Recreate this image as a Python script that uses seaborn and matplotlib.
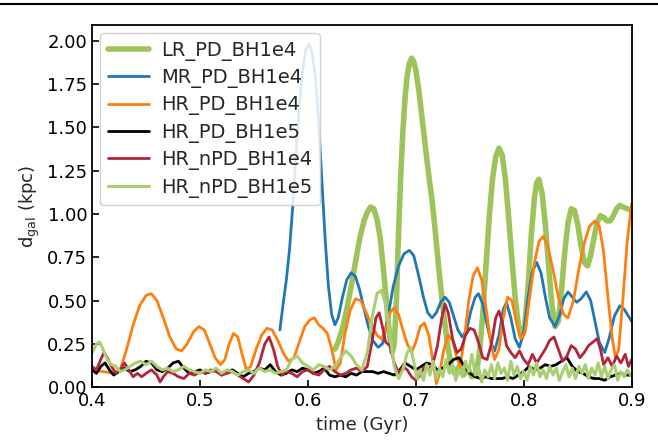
import numpy as np
import pandas as pd
import matplotlib
matplotlib.use("Agg")
import matplotlib.pyplot as plt
from matplotlib.lines import Line2D
import seaborn as sns

# ---- data: galaxy-centre offset of the black hole, d_gal (kpc) vs time (Gyr) ----
lr_pd_bh1e4_t = [0.625, 0.628, 0.632, 0.636, 0.640, 0.644, 0.648, 0.652, 0.655, 0.658,
                 0.661, 0.664, 0.667, 0.670, 0.673, 0.676, 0.678, 0.680, 0.682, 0.684,
                 0.686, 0.688, 0.690, 0.692, 0.694, 0.696, 0.698, 0.700, 0.703, 0.706,
                 0.709, 0.712, 0.715, 0.718, 0.721, 0.724, 0.727, 0.730, 0.733, 0.736,
                 0.740, 0.744, 0.748, 0.752, 0.756, 0.759, 0.762, 0.765, 0.768, 0.771,
                 0.774, 0.777, 0.780, 0.783, 0.786, 0.789, 0.792, 0.795, 0.798, 0.801,
                 0.804, 0.807, 0.810, 0.812, 0.814, 0.817, 0.820, 0.823, 0.826, 0.829,
                 0.832, 0.835, 0.838, 0.841, 0.844, 0.847, 0.850, 0.853, 0.856, 0.859,
                 0.862, 0.865, 0.868, 0.871, 0.874, 0.877, 0.880, 0.883, 0.886, 0.889,
                 0.892, 0.896, 0.900]
lr_pd_bh1e4_d = [0.22, 0.26, 0.34, 0.45, 0.58, 0.72, 0.86, 0.96, 1.01, 1.04,
                 1.03, 0.97, 0.86, 0.68, 0.47, 0.28, 0.20, 0.25, 0.50, 0.90,
                 1.22, 1.48, 1.67, 1.80, 1.87, 1.90, 1.88, 1.83, 1.70, 1.54,
                 1.38, 1.22, 1.08, 0.90, 0.70, 0.52, 0.36, 0.22, 0.12, 0.08,
                 0.12, 0.07, 0.11, 0.06, 0.08, 0.20, 0.42, 0.70, 0.98, 1.20,
                 1.33, 1.38, 1.34, 1.20, 0.98, 0.74, 0.52, 0.36, 0.29, 0.36,
                 0.58, 0.88, 1.10, 1.18, 1.20, 1.12, 0.94, 0.70, 0.48, 0.35,
                 0.38, 0.56, 0.78, 0.95, 1.03, 1.02, 0.94, 0.82, 0.72, 0.70,
                 0.76, 0.86, 0.95, 0.99, 0.98, 0.96, 0.96, 0.99, 1.03, 1.05,
                 1.04, 1.03, 1.02]

mr_pd_bh1e4_t = [0.574, 0.577, 0.580, 0.583, 0.586, 0.589, 0.592, 0.595, 0.598, 0.601,
                 0.604, 0.607, 0.610, 0.613, 0.616, 0.619, 0.622, 0.625, 0.628, 0.632,
                 0.636, 0.640, 0.644, 0.648, 0.652, 0.656, 0.660, 0.665, 0.669, 0.674,
                 0.679, 0.684, 0.689, 0.694, 0.698, 0.702, 0.707, 0.711, 0.715, 0.719,
                 0.723, 0.727, 0.731, 0.735, 0.739, 0.743, 0.747, 0.751, 0.755, 0.758,
                 0.762, 0.766, 0.770, 0.773, 0.777, 0.781, 0.784, 0.788, 0.792, 0.796,
                 0.800, 0.804, 0.808, 0.812, 0.816, 0.820, 0.824, 0.829, 0.833, 0.837,
                 0.841, 0.845, 0.849, 0.853, 0.858, 0.862, 0.866, 0.870, 0.875, 0.879,
                 0.884, 0.889, 0.893, 0.897, 0.900]
mr_pd_bh1e4_d = [0.33, 0.48, 0.62, 0.80, 1.05, 1.35, 1.62, 1.82, 1.95, 1.98,
                 1.93, 1.78, 1.52, 1.18, 0.85, 0.58, 0.42, 0.36, 0.40, 0.52,
                 0.62, 0.66, 0.64, 0.56, 0.45, 0.35, 0.27, 0.23, 0.25, 0.40,
                 0.58, 0.70, 0.77, 0.79, 0.76, 0.66, 0.52, 0.43, 0.40, 0.43,
                 0.49, 0.52, 0.49, 0.41, 0.33, 0.29, 0.33, 0.44, 0.52, 0.54,
                 0.48, 0.36, 0.25, 0.21, 0.30, 0.45, 0.49, 0.40, 0.28, 0.23,
                 0.32, 0.52, 0.67, 0.72, 0.66, 0.52, 0.40, 0.35, 0.41, 0.51,
                 0.55, 0.52, 0.49, 0.51, 0.55, 0.50, 0.38, 0.26, 0.20, 0.28,
                 0.41, 0.47, 0.45, 0.41, 0.38]

hr_pd_bh1e4_t = [0.400, 0.410, 0.420, 0.426, 0.432, 0.438, 0.444, 0.450, 0.455, 0.460,
                 0.466, 0.472, 0.478, 0.483, 0.488, 0.494, 0.499, 0.504, 0.509, 0.514,
                 0.519, 0.523, 0.527, 0.531, 0.535, 0.539, 0.543, 0.547, 0.552, 0.557,
                 0.562, 0.567, 0.572, 0.577, 0.582, 0.587, 0.592, 0.597, 0.602, 0.606,
                 0.610, 0.614, 0.618, 0.622, 0.626, 0.630, 0.634, 0.639, 0.644, 0.649,
                 0.654, 0.659, 0.664, 0.668, 0.672, 0.676, 0.680, 0.684, 0.688, 0.692,
                 0.696, 0.700, 0.704, 0.708, 0.712, 0.716, 0.719, 0.722, 0.726, 0.730,
                 0.734, 0.738, 0.741, 0.745, 0.749, 0.753, 0.757, 0.761, 0.765, 0.769,
                 0.773, 0.777, 0.781, 0.785, 0.789, 0.793, 0.797, 0.801, 0.805, 0.810,
                 0.814, 0.818, 0.822, 0.827, 0.832, 0.837, 0.841, 0.846, 0.851, 0.856,
                 0.861, 0.866, 0.870, 0.874, 0.878, 0.882, 0.885, 0.888, 0.892, 0.896,
                 0.900]
hr_pd_bh1e4_d = [0.10, 0.09, 0.08, 0.10, 0.22, 0.36, 0.47, 0.53, 0.54, 0.50,
                 0.40, 0.29, 0.22, 0.21, 0.25, 0.32, 0.35, 0.33, 0.25, 0.17,
                 0.13, 0.16, 0.25, 0.31, 0.29, 0.19, 0.10, 0.12, 0.22, 0.30,
                 0.34, 0.33, 0.27, 0.20, 0.15, 0.17, 0.26, 0.35, 0.39, 0.40,
                 0.36, 0.34, 0.31, 0.22, 0.10, 0.14, 0.30, 0.44, 0.51, 0.50,
                 0.43, 0.36, 0.30, 0.28, 0.33, 0.43, 0.46, 0.42, 0.33, 0.25,
                 0.20, 0.26, 0.35, 0.37, 0.30, 0.14, 0.02, 0.08, 0.22, 0.30,
                 0.27, 0.17, 0.12, 0.28, 0.50, 0.64, 0.69, 0.62, 0.46, 0.27,
                 0.16, 0.22, 0.40, 0.52, 0.50, 0.38, 0.28, 0.31, 0.50, 0.72,
                 0.84, 0.87, 0.82, 0.68, 0.52, 0.42, 0.40, 0.50, 0.68, 0.83,
                 0.93, 0.96, 0.93, 0.78, 0.52, 0.28, 0.17, 0.22, 0.52, 0.85,
                 1.06]

hr_pd_bh1e5_t = [0.400, 0.404, 0.408, 0.412, 0.416, 0.420, 0.425, 0.430, 0.435, 0.440,
                 0.445, 0.450, 0.455, 0.460, 0.465, 0.470, 0.475, 0.480, 0.485, 0.490,
                 0.495, 0.500, 0.505, 0.510, 0.515, 0.520, 0.525, 0.530, 0.535, 0.540,
                 0.545, 0.550, 0.555, 0.560, 0.565, 0.570, 0.575, 0.580, 0.585, 0.590,
                 0.595, 0.600, 0.605, 0.610, 0.615, 0.620, 0.625, 0.630, 0.635, 0.640,
                 0.645, 0.650, 0.655, 0.660, 0.665, 0.670, 0.675, 0.680, 0.685, 0.690,
                 0.695, 0.700, 0.705, 0.710, 0.715, 0.720, 0.725, 0.730, 0.735, 0.740,
                 0.745, 0.750, 0.755, 0.760, 0.765, 0.770, 0.775, 0.780, 0.785, 0.790,
                 0.795, 0.800, 0.805, 0.810, 0.815, 0.820, 0.825, 0.830, 0.835, 0.840,
                 0.845, 0.850, 0.855, 0.860, 0.865, 0.870, 0.875, 0.880, 0.885, 0.890,
                 0.895, 0.900]
hr_pd_bh1e5_d = [0.10, 0.08, 0.12, 0.14, 0.10, 0.07, 0.09, 0.11, 0.09, 0.10,
                 0.12, 0.15, 0.14, 0.10, 0.09, 0.11, 0.14, 0.15, 0.11, 0.08,
                 0.09, 0.10, 0.08, 0.09, 0.10, 0.07, 0.09, 0.10, 0.08, 0.06,
                 0.08, 0.09, 0.11, 0.10, 0.13, 0.09, 0.07, 0.08, 0.10, 0.09,
                 0.11, 0.10, 0.08, 0.09, 0.11, 0.07, 0.06, 0.07, 0.06, 0.08,
                 0.07, 0.09, 0.09, 0.09, 0.08, 0.09, 0.08, 0.07, 0.10, 0.14,
                 0.12, 0.10, 0.12, 0.14, 0.13, 0.10, 0.11, 0.13, 0.16, 0.17,
                 0.12, 0.08, 0.06, 0.05, 0.06, 0.05, 0.05, 0.05, 0.06, 0.05,
                 0.07, 0.09, 0.12, 0.10, 0.11, 0.13, 0.12, 0.13, 0.15, 0.17,
                 0.12, 0.09, 0.08, 0.06, 0.05, 0.05, 0.04, 0.06, 0.07, 0.08,
                 0.07, 0.07]

hr_npd_bh1e4_t = [0.400, 0.404, 0.408, 0.411, 0.414, 0.418, 0.422, 0.426, 0.430, 0.434,
                  0.438, 0.442, 0.446, 0.450, 0.455, 0.460, 0.463, 0.466, 0.470, 0.475,
                  0.480, 0.485, 0.490, 0.495, 0.500, 0.505, 0.510, 0.515, 0.520, 0.525,
                  0.530, 0.535, 0.540, 0.545, 0.550, 0.555, 0.560, 0.564, 0.568, 0.572,
                  0.576, 0.580, 0.585, 0.590, 0.595, 0.600, 0.605, 0.610, 0.615, 0.620,
                  0.625, 0.630, 0.635, 0.640, 0.645, 0.650, 0.655, 0.659, 0.663, 0.666,
                  0.669, 0.672, 0.676, 0.680, 0.684, 0.688, 0.692, 0.696, 0.700, 0.704,
                  0.708, 0.712, 0.716, 0.720, 0.724, 0.727, 0.730, 0.734, 0.738, 0.742,
                  0.746, 0.750, 0.754, 0.758, 0.762, 0.766, 0.770, 0.774, 0.777, 0.780,
                  0.784, 0.788, 0.792, 0.796, 0.800, 0.804, 0.808, 0.812, 0.816, 0.820,
                  0.824, 0.828, 0.832, 0.836, 0.840, 0.844, 0.848, 0.852, 0.856, 0.860,
                  0.864, 0.868, 0.871, 0.874, 0.878, 0.882, 0.886, 0.890, 0.894, 0.897,
                  0.900]
hr_npd_bh1e4_d = [0.12, 0.10, 0.16, 0.20, 0.17, 0.12, 0.08, 0.10, 0.14, 0.10,
                  0.06, 0.08, 0.06, 0.08, 0.10, 0.07, 0.03, 0.06, 0.09, 0.08,
                  0.06, 0.05, 0.08, 0.07, 0.09, 0.08, 0.10, 0.09, 0.07, 0.08,
                  0.09, 0.07, 0.05, 0.03, 0.07, 0.14, 0.25, 0.29, 0.22, 0.12,
                  0.07, 0.09, 0.08, 0.06, 0.09, 0.10, 0.08, 0.07, 0.10, 0.12,
                  0.09, 0.07, 0.08, 0.10, 0.11, 0.09, 0.12, 0.25, 0.40, 0.43,
                  0.35, 0.26, 0.24, 0.14, 0.08, 0.12, 0.10, 0.06, 0.04, 0.07,
                  0.12, 0.10, 0.14, 0.24, 0.40, 0.48, 0.43, 0.28, 0.20, 0.22,
                  0.30, 0.34, 0.33, 0.26, 0.17, 0.16, 0.25, 0.40, 0.44, 0.38,
                  0.24, 0.20, 0.17, 0.21, 0.16, 0.13, 0.19, 0.14, 0.18, 0.22,
                  0.27, 0.29, 0.22, 0.15, 0.18, 0.24, 0.22, 0.17, 0.20, 0.24,
                  0.26, 0.28, 0.22, 0.13, 0.17, 0.12, 0.18, 0.14, 0.19, 0.12,
                  0.16]

hr_npd_bh1e5_t = [0.400, 0.404, 0.407, 0.410, 0.414, 0.418, 0.422, 0.426, 0.430, 0.435,
                  0.440, 0.445, 0.450, 0.455, 0.460, 0.465, 0.470, 0.475, 0.480, 0.485,
                  0.490, 0.495, 0.500, 0.505, 0.510, 0.515, 0.520, 0.525, 0.530, 0.535,
                  0.540, 0.545, 0.550, 0.555, 0.560, 0.565, 0.570, 0.575, 0.580, 0.585,
                  0.590, 0.595, 0.600, 0.605, 0.610, 0.615, 0.620, 0.625, 0.630, 0.635,
                  0.640, 0.645, 0.650, 0.655, 0.660, 0.664, 0.668, 0.672, 0.676, 0.680,
                  0.684, 0.688, 0.692, 0.695, 0.698,
                  0.701, 0.704, 0.707, 0.710, 0.713, 0.716, 0.719, 0.722, 0.725, 0.728,
                  0.731, 0.734, 0.737, 0.740, 0.743, 0.746, 0.749, 0.752, 0.755, 0.758,
                  0.761, 0.764, 0.767, 0.770, 0.773, 0.776, 0.779, 0.782, 0.785, 0.788,
                  0.791, 0.794, 0.797, 0.800, 0.803, 0.806, 0.809, 0.812, 0.815, 0.818,
                  0.821, 0.824, 0.827, 0.830, 0.833, 0.836, 0.839, 0.842, 0.845, 0.848,
                  0.851, 0.854, 0.857, 0.860, 0.863, 0.866, 0.869, 0.872, 0.875, 0.878,
                  0.881, 0.884, 0.887, 0.890, 0.893, 0.896, 0.899]
hr_npd_bh1e5_d = [0.20, 0.25, 0.26, 0.22, 0.16, 0.13, 0.12, 0.09, 0.10, 0.12,
                  0.14, 0.15, 0.13, 0.15, 0.12, 0.10, 0.11, 0.09, 0.10, 0.12,
                  0.10, 0.09, 0.08, 0.10, 0.09, 0.11, 0.08, 0.10, 0.09, 0.07,
                  0.09, 0.10, 0.08, 0.11, 0.09, 0.10, 0.08, 0.09, 0.10, 0.16,
                  0.18, 0.14, 0.12, 0.10, 0.13, 0.12, 0.10, 0.12, 0.17, 0.21,
                  0.18, 0.13, 0.10, 0.20, 0.42, 0.54, 0.56, 0.48, 0.30, 0.12,
                  0.05, 0.10, 0.20, 0.23, 0.15,
                  0.05, 0.10, 0.04, 0.13, 0.07, 0.15, 0.05, 0.11, 0.06, 0.16,
                  0.08, 0.13, 0.04, 0.10, 0.06, 0.15, 0.09, 0.19, 0.07, 0.12,
                  0.03, 0.10, 0.06, 0.13, 0.05, 0.14, 0.08, 0.11, 0.04, 0.15,
                  0.07, 0.12, 0.05, 0.09, 0.04, 0.12, 0.07, 0.14, 0.06, 0.10,
                  0.05, 0.12, 0.07, 0.11, 0.04, 0.09, 0.13, 0.06, 0.11, 0.05,
                  0.12, 0.08, 0.13, 0.05, 0.11, 0.07, 0.14, 0.06, 0.12, 0.05,
                  0.10, 0.13, 0.04, 0.09, 0.06, 0.10, 0.07]

runs = ["LR_PD_BH1e4", "MR_PD_BH1e4", "HR_PD_BH1e4",
        "HR_PD_BH1e5", "HR_nPD_BH1e4", "HR_nPD_BH1e5"]
times = [lr_pd_bh1e4_t, mr_pd_bh1e4_t, hr_pd_bh1e4_t,
         hr_pd_bh1e5_t, hr_npd_bh1e4_t, hr_npd_bh1e5_t]
dists = [lr_pd_bh1e4_d, mr_pd_bh1e4_d, hr_pd_bh1e4_d,
         hr_pd_bh1e5_d, hr_npd_bh1e4_d, hr_npd_bh1e5_d]

colors = ["#9dc35b", "#1f77b4", "#ff7f0e", "#000000", "#b2253a", "#a9cf72"]
widths = [4.0, 2.0, 2.0, 2.0, 2.0, 2.2]

df = pd.concat(
    [pd.DataFrame({"time": t, "d_gal": d, "run": r}) for r, t, d in zip(runs, times, dists)],
    ignore_index=True,
)

sns.set_style("ticks")
plt.rcParams["font.family"] = ["DejaVu Sans"]

fig = plt.figure(figsize=(6.58, 4.41), dpi=100)
ax = fig.add_axes([0.140, 0.122, 0.820, 0.821])

for run, col, lw in zip(runs, colors, widths):
    sub = df[df["run"] == run]
    sns.lineplot(data=sub, x="time", y="d_gal", ax=ax, color=col, linewidth=lw,
                 label=run, estimator=None, sort=True)

ax.set_xlim(0.4, 0.9)
ax.set_ylim(0.0, 2.09)
ax.set_xticks([0.4, 0.5, 0.6, 0.7, 0.8, 0.9])
ax.set_yticks([0.0, 0.25, 0.5, 0.75, 1.0, 1.25, 1.5, 1.75, 2.0])
ax.xaxis.set_major_formatter(matplotlib.ticker.FormatStrFormatter("%.1f"))
ax.yaxis.set_major_formatter(matplotlib.ticker.FormatStrFormatter("%.2f"))
ax.tick_params(direction="in", length=5, width=1.2, labelsize=13, colors="black")
for sp in ax.spines.values():
    sp.set_linewidth(1.3)
    sp.set_color("black")

ax.set_xlabel("time (Gyr)", fontsize=13)
ax.set_ylabel(r"d$_{\rm gal}$ (kpc)", fontsize=13)

leg = ax.legend(loc="upper left", fontsize=14, frameon=True, handlelength=2.15,
                handletextpad=0.6, borderaxespad=0.4, labelspacing=0.38,
                framealpha=0.85)
leg.get_frame().set_edgecolor("#cccccc")

# rule across the top of the figure
fig.add_artist(Line2D([0.0, 1.0], [0.990, 0.990], color="black", linewidth=1.5))

fig.savefig("out.png", dpi=100)
